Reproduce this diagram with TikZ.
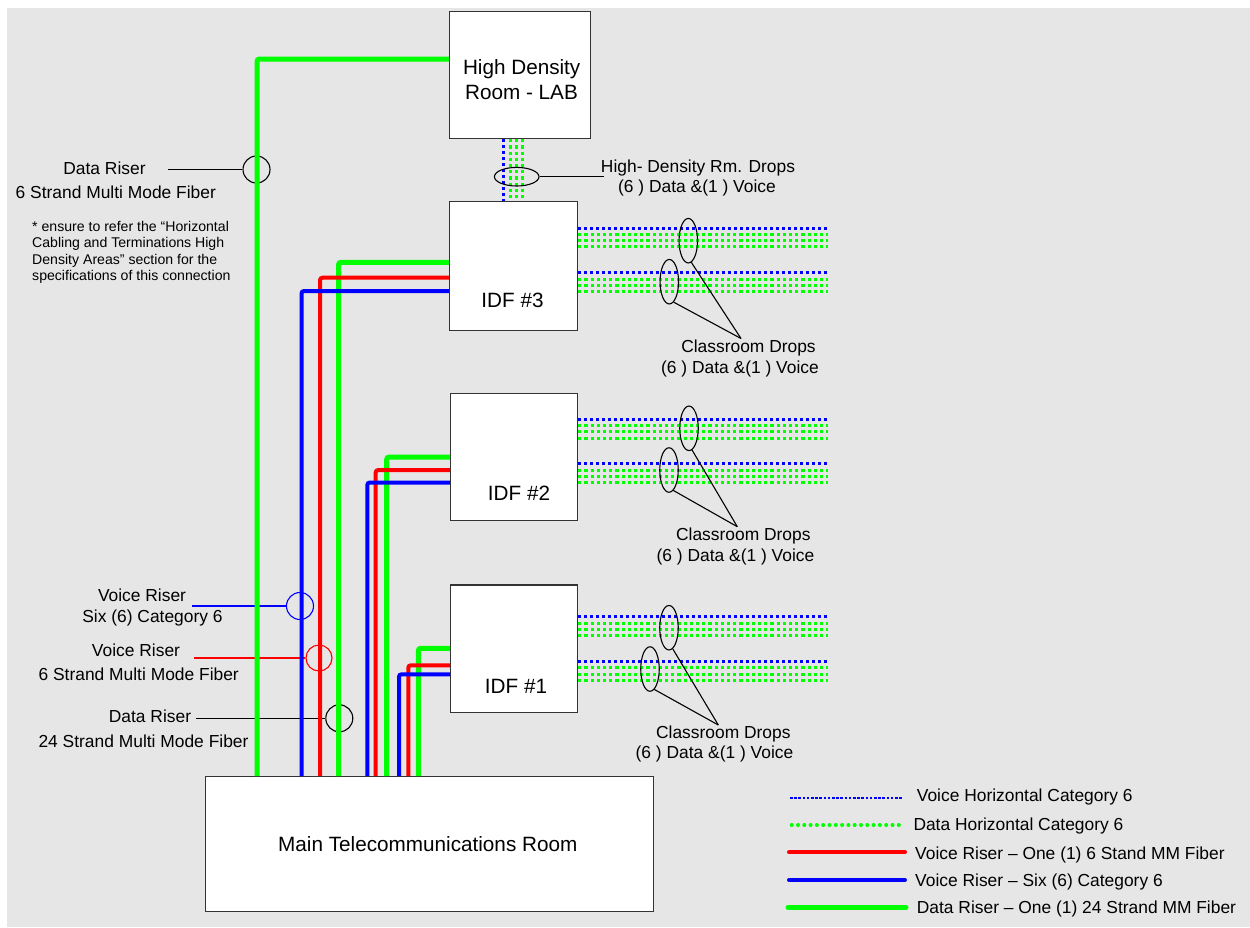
\documentclass[tikz,border=0pt]{standalone}
\usepackage{fontspec}
\setmainfont{Liberation Sans}
\usetikzlibrary{shapes.geometric}
\definecolor{bgc}{RGB}{230,230,230}
\definecolor{cgreen}{RGB}{0,255,0}
\definecolor{cblue}{RGB}{0,0,255}
\definecolor{cred}{RGB}{255,0,0}
\begin{document}
\begin{tikzpicture}[x=1pt,y=-1pt,
 room/.style={draw=black!80, line width=1.2pt, fill=white, inner sep=0pt, anchor=north west},
 bigtext/.style={font=\fontsize{20.7}{24}\selectfont, inner sep=0pt, anchor=base},
 lab/.style={font=\fontsize{17.4}{21}\selectfont, inner sep=0pt, anchor=base},
 notetext/.style={font=\fontsize{14.1}{16}\selectfont, inner sep=0pt, anchor=base west},
 leglab/.style={font=\fontsize{17.4}{21}\selectfont, inner sep=0pt, anchor=base west},
 grn/.style={draw=cgreen, line width=5pt, rounded corners=2.5pt},
 rd/.style={draw=cred, line width=4pt, rounded corners=2.5pt},
 bl/.style={draw=cblue, line width=4pt, rounded corners=2.5pt},
 vdrop/.style={draw=cblue, line width=2.6pt, dash pattern=on 3.2pt off 2.8pt},
 ddrop/.style={draw=cgreen, line width=3pt, dash pattern=on 3.2pt off 3pt},
 ring/.style={circle, draw=black, line width=1.1pt, minimum size=27pt, inner sep=0pt},
 oval/.style={ellipse, draw=black, line width=1.1pt, inner sep=0pt, minimum width=18.5pt, minimum height=44.5pt},
 leader/.style={line width=1.1pt},
]
\useasboundingbox (0,0) rectangle (1250,927);
\fill[bgc] (7,8) rectangle (1250,927);

% rooms
\node[room, minimum width=141pt, minimum height=127pt] (hd) at (449,11) {};
\node[room, minimum width=128pt, minimum height=129pt] (idf3) at (449,201) {};
\node[room, minimum width=127pt, minimum height=127pt] (idf2) at (450,393) {};
\node[room, minimum width=127pt, minimum height=127.4pt] (idf1) at (450,584.3) {};
\node[room, minimum width=448pt, minimum height=135pt] (main) at (205,776) {};

% riser label rings and leaders
\node[ring] (rdata6) at (256.5,169.5) {};
\node[ring, draw=cblue] (rv6) at (300,606) {};
\node[ring, draw=cred, minimum size=26pt] (rvf) at (319,658) {};
\node[ring] (rd24) at (339.3,718.3) {};
\coordinate (l1) at (168,169.5);
\coordinate (l2) at (192,606);
\coordinate (l3) at (194,658);
\coordinate (l4) at (195.7,718.3);
\draw[leader] (l1) -- (rdata6.west);
\draw[leader, cblue] (l2) -- (rv6.west);
\draw[leader, cred] (l3) -- (rvf.west);
\draw[leader] (l4) -- (rd24.west);

% riser bend points
\coordinate (k0) at (257,59);
\coordinate (k3g) at (338.5,262.3);
\coordinate (k3r) at (320,277.7);
\coordinate (k3b) at (301.5,291);
\coordinate (k2g) at (386.7,457);
\coordinate (k2r) at (375.7,470);
\coordinate (k2b) at (367.3,482.5);
\coordinate (k1g) at (418.3,648.3);
\coordinate (k1r) at (408.3,665.3);
\coordinate (k1b) at (399,674.3);

% risers
\draw[grn] (main.north -| k0) |- (hd.west |- k0);
\draw[grn] (main.north -| k3g) |- (idf3.west |- k3g);
\draw[rd] (main.north -| k3r) |- (idf3.west |- k3r);
\draw[bl] (main.north -| k3b) |- (idf3.west |- k3b);
\draw[grn] (main.north -| k2g) |- (idf2.west |- k2g);
\draw[rd] (main.north -| k2r) |- (idf2.west |- k2r);
\draw[bl] (main.north -| k2b) |- (idf2.west |- k2b);
\draw[grn] (main.north -| k1g) |- (idf1.west |- k1g);
\draw[rd] (main.north -| k1r) |- (idf1.west |- k1r);
\draw[bl] (main.north -| k1b) |- (idf1.west |- k1b);

% high density drops
\draw[vdrop] (hd.south -| 503.3,0) -- (idf3.north -| 503.3,0);
\foreach \x in {510,516.7,522.7} \draw[ddrop] (hd.south -| \x,0) -- (idf3.north -| \x,0);

% classroom drops
\foreach \y in {228.3,272.7} \draw[vdrop] (idf3.east |- 0,\y) -- (828.3,\y);
\foreach \y in {234,240.3,246.7,279,285.3,291.7} \draw[ddrop] (idf3.east |- 0,\y) -- (828.3,\y);
\foreach \y in {419.3,463.7} \draw[vdrop] (idf2.east |- 0,\y) -- (828.3,\y);
\foreach \y in {425.3,431.7,438,470,476.3,482.7} \draw[ddrop] (idf2.east |- 0,\y) -- (828.3,\y);
\foreach \y in {616.7,661.3} \draw[vdrop] (idf1.east |- 0,\y) -- (828.3,\y);
\foreach \y in {623,629.3,635.7,667.7,674,680.3} \draw[ddrop] (idf1.east |- 0,\y) -- (828.3,\y);

% ellipses
\node[oval, minimum width=44.6pt, minimum height=18.6pt] (eh) at (516.7,176.7) {};
\coordinate (hdl) at (604.3,176.7);
\draw[leader] (eh.east) -- (hdl);

\node[oval] (e3a) at (688.3,240.7) {};
\node[oval] (e3b) at (669.3,281.7) {};
\node[oval] (e2a) at (689,428.3) {};
\node[oval] (e2b) at (669,470) {};
\node[oval] (e1a) at (669,627.7) {};
\node[oval] (e1b) at (650,669) {};
\coordinate (c3) at (741,338.5);
\coordinate (c2) at (737.3,526.7);
\coordinate (c1) at (718.3,725);
\draw[leader] (e3a.-82) -- (c3);
\draw[leader] (e3b.-78) -- (c3);
\draw[leader] (e2a.-82) -- (c2);
\draw[leader] (e2b.-78) -- (c2);
\draw[leader] (e1a.-80) -- (c1);
\draw[leader] (e1b.-78) -- (c1);

% room texts
\node[bigtext] (thd1) at (521.7,74) {High Density};
\node[bigtext] (thd2) at (521.5,99) {Room - LAB};
\node[bigtext] (ti3) at (512.5,307.3) {IDF \#3};
\node[bigtext] (ti2) at (519,500.5) {IDF \#2};
\node[bigtext] (ti1) at (516,693.5) {IDF \#1};
\node[bigtext] (tmain) at (427.8,851.7) {Main Telecommunications Room};

% drop labels
\node[lab] (thdd1) at (698,172) {High- Density Rm. Drops};
\node[lab] (thdd2) at (697,192.7) {(6 ) Data \&(1 ) Voice};
\node[lab] (tc3a) at (748.5,352) {Classroom Drops};
\node[lab] (tc3b) at (740,373) {(6 ) Data \&(1 ) Voice};
\node[lab] (tc2a) at (743.3,540.3) {Classroom Drops};
\node[lab] (tc2b) at (735.5,561) {(6 ) Data \&(1 ) Voice};
\node[lab] (tc1a) at (723.3,738.3) {Classroom Drops};
\node[lab] (tc1b) at (714.5,758.7) {(6 ) Data \&(1 ) Voice};

% riser labels
\node[lab] (tr1a) at (104.5,174) {Data Riser};
\node[lab] (tr1b) at (115.8,198) {6 Strand Multi Mode Fiber};
\node[notetext] (tn1) at (32,231.7) {* ensure to refer the “Horizontal};
\node[notetext] (tn2) at (32,247.3) {Cabling and Terminations High};
\node[notetext] (tn3) at (32,264) {Density Areas” section for the};
\node[notetext] (tn4) at (32,280.7) {specifications of this connection};
\node[lab] (tr2a) at (142,601) {Voice Riser};
\node[lab] (tr2b) at (152.5,622) {Six (6) Category 6};
\node[lab] (tr3a) at (136,656) {Voice Riser};
\node[lab] (tr3b) at (138.7,680) {6 Strand Multi Mode Fiber};
\node[lab] (tr4a) at (150,722.7) {Data Riser};
\node[lab] (tr4b) at (143.5,747) {24 Strand Multi Mode Fiber};

% legend
\draw[draw=cblue, line width=2pt, dash pattern=on 2.6pt off 1.6pt] (790,797.7) -- (902.7,797.7);
\draw[draw=cgreen, line width=4pt, line cap=round, dash pattern=on 0pt off 6.3pt] (791.7,825) -- (904,825);
\draw[draw=cred, line width=4pt, line cap=round] (789,852.3) -- (905,852.3);
\draw[draw=cblue, line width=4pt, line cap=round] (789,880) -- (905,880);
\draw[draw=cgreen, line width=5pt, line cap=round] (788,907.3) -- (906,907.3);
\node[leglab] (lg1) at (916.7,801.7) {Voice Horizontal Category 6};
\node[leglab] (lg2) at (913.3,830) {Data Horizontal Category 6};
\node[leglab] (lg3) at (915,859.7) {Voice Riser – One (1) 6 Stand MM Fiber};
\node[leglab] (lg4) at (915,886) {Voice Riser – Six (6) Category 6};
\node[leglab] (lg5) at (916.7,913.3) {Data Riser – One (1) 24 Strand MM Fiber};
\end{tikzpicture}
\end{document}
